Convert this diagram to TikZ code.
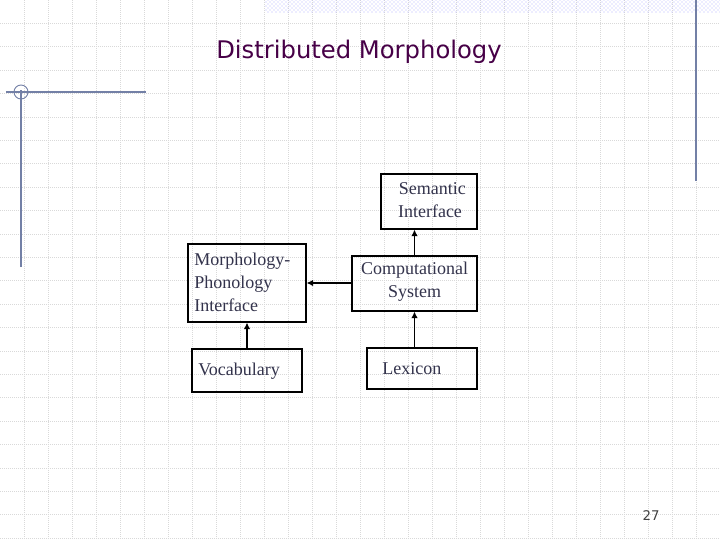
\documentclass[tikz,border=0pt]{standalone}
\usepackage{fontspec}
\setmainfont{Liberation Serif}
\newfontfamily\titlefont{DejaVu Sans}
\usetikzlibrary{patterns,arrows.meta}
\definecolor{accentc}{rgb}{0.45,0.5,0.65}
\definecolor{txtc}{rgb}{0.2,0.2,0.3}
\begin{document}
\begin{tikzpicture}[x=0.75pt,y=-0.75pt,
  lbl/.style={font=\fontsize{13.5}{17}\selectfont,text=txtc,inner sep=0pt},
  frame/.style={draw=black,line width=0.8pt},
  arr/.style={line width=1.4pt,-{Latex[length=5pt,width=5pt]}},
  gridl/.style={gray!30,densely dotted,line width=0.5pt},
  accent/.style={draw=accentc,line width=1pt}]
\useasboundingbox (0,0) rectangle (720,540);
\fill[white] (0,0) rectangle (720,540);
\foreach \i in {1,...,29} {\draw[gridl] (24*\i,0) -- (24*\i,540);}
\foreach \j in {1,...,23} {\draw[gridl] (0,23.4*\j) -- (720,23.4*\j);}
\fill[pattern=crosshatch dots,pattern color=blue!30] (265,0) rectangle (720,12);
\draw[accent] (696,0) -- (696,181);
\draw[accent] (6,92) -- (146,92);
\draw[accent] (21,90) -- (21,267);
\draw[accent,line width=0.7pt] (21,92) circle (7);
\node (title) at (359,52) {\titlefont\fontsize{18.2}{22}\selectfont\color{black!30!violet!80!black}Distributed Morphology};
\node (num) at (651,516) {\titlefont\fontsize{10}{12}\selectfont\color{black!75}27};
\node[frame,minimum width=72pt,minimum height=41.25pt,inner sep=0pt] (sem) at (429,201.5) {};
\node[lbl,align=center] at (430,200) {\ Semantic\\Interface};
\node[frame,minimum width=88.5pt,minimum height=58.5pt,inner sep=0pt] (mp) at (247,283) {};
\node[lbl,align=left,anchor=north west] at (194,253) {Morphology-\\Phonology\\Interface};
\node[frame,minimum width=93.75pt,minimum height=41.25pt,inner sep=0pt] (comp) at (414.5,283.5) {};
\node[lbl,align=center] at (414.5,282) {Computational\\System};
\node[frame,minimum width=82.5pt,minimum height=32.25pt,inner sep=0pt] (voc) at (247,370.5) {};
\node[lbl,anchor=west] at (198,371) {Vocabulary};
\node[frame,minimum width=82.5pt,minimum height=30.75pt,inner sep=0pt] (lex) at (422,368.5) {};
\node[lbl,anchor=west] at (382,369) {Lexicon};
\draw[arr] (lex.north -| 414.5,0) -- (comp.south -| 414.5,0);
\draw[arr] (comp.north -| 414.5,0) -- (sem.south -| 414.5,0);
\draw[arr,line width=1pt] (comp.west |- 0,283) -- (mp.east |- 0,283);
\draw[arr] (voc.north) -- (mp.south);
\end{tikzpicture}
\end{document}
